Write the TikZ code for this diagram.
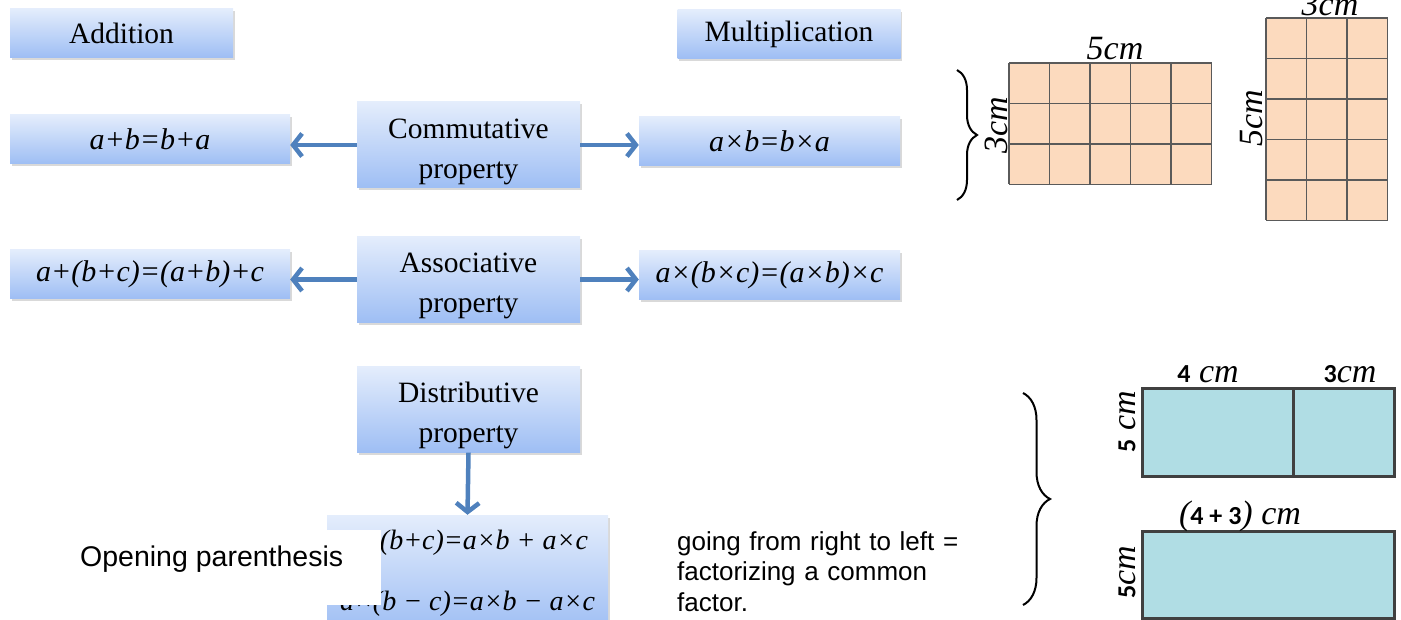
\documentclass[tikz,border=0pt]{standalone}
\usepackage{fontspec}
\setmainfont{Liberation Serif}
\newfontfamily\arialfont{Liberation Sans}
\newfontfamily\calibrifont{Carlito}
\usetikzlibrary{arrows.meta,shadows,decorations.pathreplacing}

\definecolor{boxtop}{RGB}{228,237,252}
\definecolor{boxbot}{RGB}{158,190,244}
\definecolor{linkblue}{RGB}{79,129,189}
\definecolor{peach}{RGB}{252,218,190}
\definecolor{gridgray}{RGB}{90,90,90}
\definecolor{partblue}{RGB}{176,221,228}
\definecolor{partgray}{RGB}{64,64,64}

\newcommand\numlabel[1]{{\calibrifont\upshape\bfseries\fontsize{26}{26}\selectfont #1}}
\newcommand\highline{\rule{0pt}{33pt}}

\begin{document}
\begin{tikzpicture}[x=1pt,y=-1pt,
        prop/.style={top color=boxtop,bottom color=boxbot,minimum width=223pt,minimum height=86pt,
            inner sep=0pt,align=center,font=\fontsize{29.5}{40}\selectfont,
            drop shadow={shadow xshift=1.5pt,shadow yshift=-2.5pt,opacity=.3}},
        head/.style={prop,minimum height=49pt},
        rule/.style={prop,minimum width=280pt,minimum height=49pt,font=\fontsize{30}{40}\selectfont\itshape},
        link/.style={draw=linkblue,line width=4.5pt,-{Straight Barb[length=9pt,width=23pt]}},
        dim/.style={inner sep=0pt,font=\fontsize{34}{34}\selectfont\itshape},
        cell/.style={draw=gridgray,line width=1.5pt},
        part/.style={draw=partgray,line width=3pt},
        curly/.style={draw,line width=2pt,decorate,decoration={brace,amplitude=#1}},
        note/.style={inner sep=0pt,font=\arialfont\fontsize{26}{30.5}\selectfont,align=left}]

    \path[use as bounding box,clip] (0,0) rectangle (1401,620);

    % column heads
    \node[head] (add) at (121.5,33) {Addition};
    \node[head] (mult) at (789,34) {Multiplication};

    % properties and rules
    \node[prop] (comm) at (468.5,145) {\highline Commutative\\property};
    \node[rule] (addcomm) at (150,139.5) {a+b=b+a};
    \node[rule,minimum width=261pt] (multcomm) at (769.5,141) {a×b=b×a};

    \node[prop] (assoc) at (468.5,279.5) {\highline Associative\\property};
    \node[rule] (addassoc) at (150,274) {a+(b+c)=(a+b)+c};
    \node[rule,minimum width=261pt] (multassoc) at (769.5,275) {a×(b×c)=(a×b)×c};

    \node[prop] (distr) at (468.5,409.5) {\highline Distributive\\property};
    \node[rule,minimum width=281pt,minimum height=117pt,font=\fontsize{28}{61}\selectfont\itshape]
        (distrf) at (467.5,573.5) {a×(b+c)=a×b + a×c\\a×(b − c)=a×b − a×c};

    \draw[link] (comm.west) -- (addcomm.east |- comm.west);
    \draw[link] (comm.east) -- (multcomm.west |- comm.east);
    \draw[link] (assoc.west) -- (addassoc.east |- assoc.west);
    \draw[link] (assoc.east) -- (multassoc.west |- assoc.east);
    \draw[link] (distr.south) -- (distrf.north);

    % notes
    \fill[white] (40,530) rectangle (381,605);
    \node[note,anchor=base west,font=\arialfont\fontsize{28.5}{31}\selectfont] (open) at (80,566) {Opening parenthesis};
    \node[note,anchor=north west,text width=300pt] (fact) at (677,531)
        {going from right to left =\\factorizing a common\\factor.};

    % 5 x 3 grid
    \fill[peach] (1009,63) rectangle (1211.5,184.5);
    \foreach \i in {0,...,5}
        \draw[cell] ({1009+40.5*\i},63) -- ({1009+40.5*\i},184.5);
    \foreach \j in {0,...,3}
        \draw[cell] (1009,{63+40.5*\j}) -- (1211.5,{63+40.5*\j});
    \node[dim] (wA) at (1115,49) {5cm};
    \node[dim,rotate=90] (hA) at (996,125) {3cm};
    \draw[curly=20pt] (957,70) -- (957,200);

    % 3 x 5 grid
    \fill[peach] (1266,18) rectangle (1387.5,220.5);
    \foreach \i in {0,...,3}
        \draw[cell] ({1266+40.5*\i},18) -- ({1266+40.5*\i},220.5);
    \foreach \j in {0,...,5}
        \draw[cell] (1266,{18+40.5*\j}) -- (1387.5,{18+40.5*\j});
    \node[dim] (wB) at (1330,4) {3cm};
    \node[dim,rotate=90] (hB) at (1252,118) {5cm};

    % split rectangles
    \fill[partblue] (1142,389) rectangle (1394,476);
    \draw[part] (1142,389) rectangle (1394,476);
    \draw[part] (1293,389) -- (1293,476);
    \fill[partblue] (1142,531) rectangle (1394,618);
    \draw[part] (1142,531) rectangle (1394,618);
    \node[dim] (w4) at (1208,374) {\numlabel{4} cm};
    \node[dim] (w3) at (1350,374) {\numlabel{3}cm};
    \node[dim] (wsum) at (1240,516) {(\numlabel{4 + 3}) cm};
    \node[dim,rotate=90] (h1) at (1127,422) {\numlabel{5} cm};
    \node[dim,rotate=90] (h2) at (1127,572) {\numlabel{5}cm};
    \draw[curly=27pt] (1023,393) -- (1023,605);
\end{tikzpicture}
\end{document}
